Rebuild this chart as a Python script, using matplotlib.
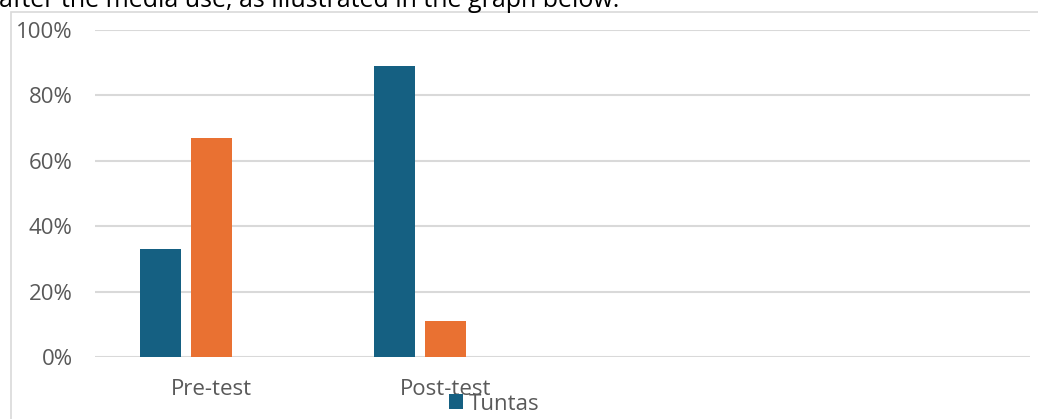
import matplotlib
matplotlib.use("Agg")
import matplotlib.pyplot as plt
import matplotlib.patches as mpatches
import numpy as np

categories = ["Pre-test", "Post-test", "", ""]
tuntas = [0.33, 0.89, None, None]
tidak_tuntas = [0.67, 0.11, None, None]
yticks = [0, 0.2, 0.4, 0.6, 0.8, 1.0]
ytick_labels = ["0%", "20%", "40%", "60%", "80%", "100%"]
series_names = ["Tuntas", "Tidak Tuntas"]
colors = ["#156082", "#E97132"]
caption = "after the media use, as illustrated in the graph below."

W, H = 1038, 419
FONT = "Open Sans"
FS = 16
fig = plt.figure(figsize=(W / 100, H / 100), dpi=100)
fig.patch.set_facecolor("white")

# caption (cut off at top)
fig.text(-1 / W, 1 - 7 / H, caption, fontsize=18, family="Open Sans",
         color="black", ha="left", va="baseline")

# chart frame
frame = mpatches.Rectangle((11 / W, -0.1), 1.2, (1 - 12 / H) + 0.1,
                           transform=fig.transFigure, fill=False,
                           edgecolor="#D9D9D9", linewidth=1.2)
fig.patches.append(frame)

ax = fig.add_axes([95 / W, 1 - 357 / H, (1030 - 95) / W, (357 - 30) / H])
x = np.arange(len(categories))
bw = 41 / 234
offsets = [-51.5 / 234, 0]
handles = []
for vals, off, c, name in zip([tuntas, tidak_tuntas], offsets, colors, series_names):
    xs = [xi + off for xi, v in zip(x, vals) if v is not None]
    vs = [v for v in vals if v is not None]
    b = ax.bar(xs, vs, width=bw, color=c, label=name, zorder=3)
    handles.append(b)

ax.set_xlim(-0.5, len(categories) - 0.5)
ax.set_ylim(0, 1.0)
ax.set_yticks(yticks)
ax.set_yticklabels(ytick_labels)
ax.set_xticks(x)
ax.set_xticklabels(categories)
ax.grid(axis="y", color="#D9D9D9", linewidth=1.5, zorder=0)
ax.set_axisbelow(True)
for s in ax.spines.values():
    s.set_visible(False)
ax.tick_params(axis="both", length=0, labelcolor="#595959", labelsize=FS)
ax.tick_params(axis="y", pad=16)
ax.tick_params(axis="x", pad=16)
for lbl in ax.get_xticklabels() + ax.get_yticklabels():
    lbl.set_family(FONT)

leg = fig.legend(handles=[handles[0]], labels=[series_names[0]],
                 loc="center left", bbox_to_anchor=(449 / W, 1 - 404 / H),
                 frameon=False, handlelength=0.65, handleheight=0.65,
                 handletextpad=0.25, borderpad=0, borderaxespad=0,
                 prop={"family": FONT, "size": FS})
for t in leg.get_texts():
    t.set_color("#595959")

fig.savefig("out.png", dpi=100)
